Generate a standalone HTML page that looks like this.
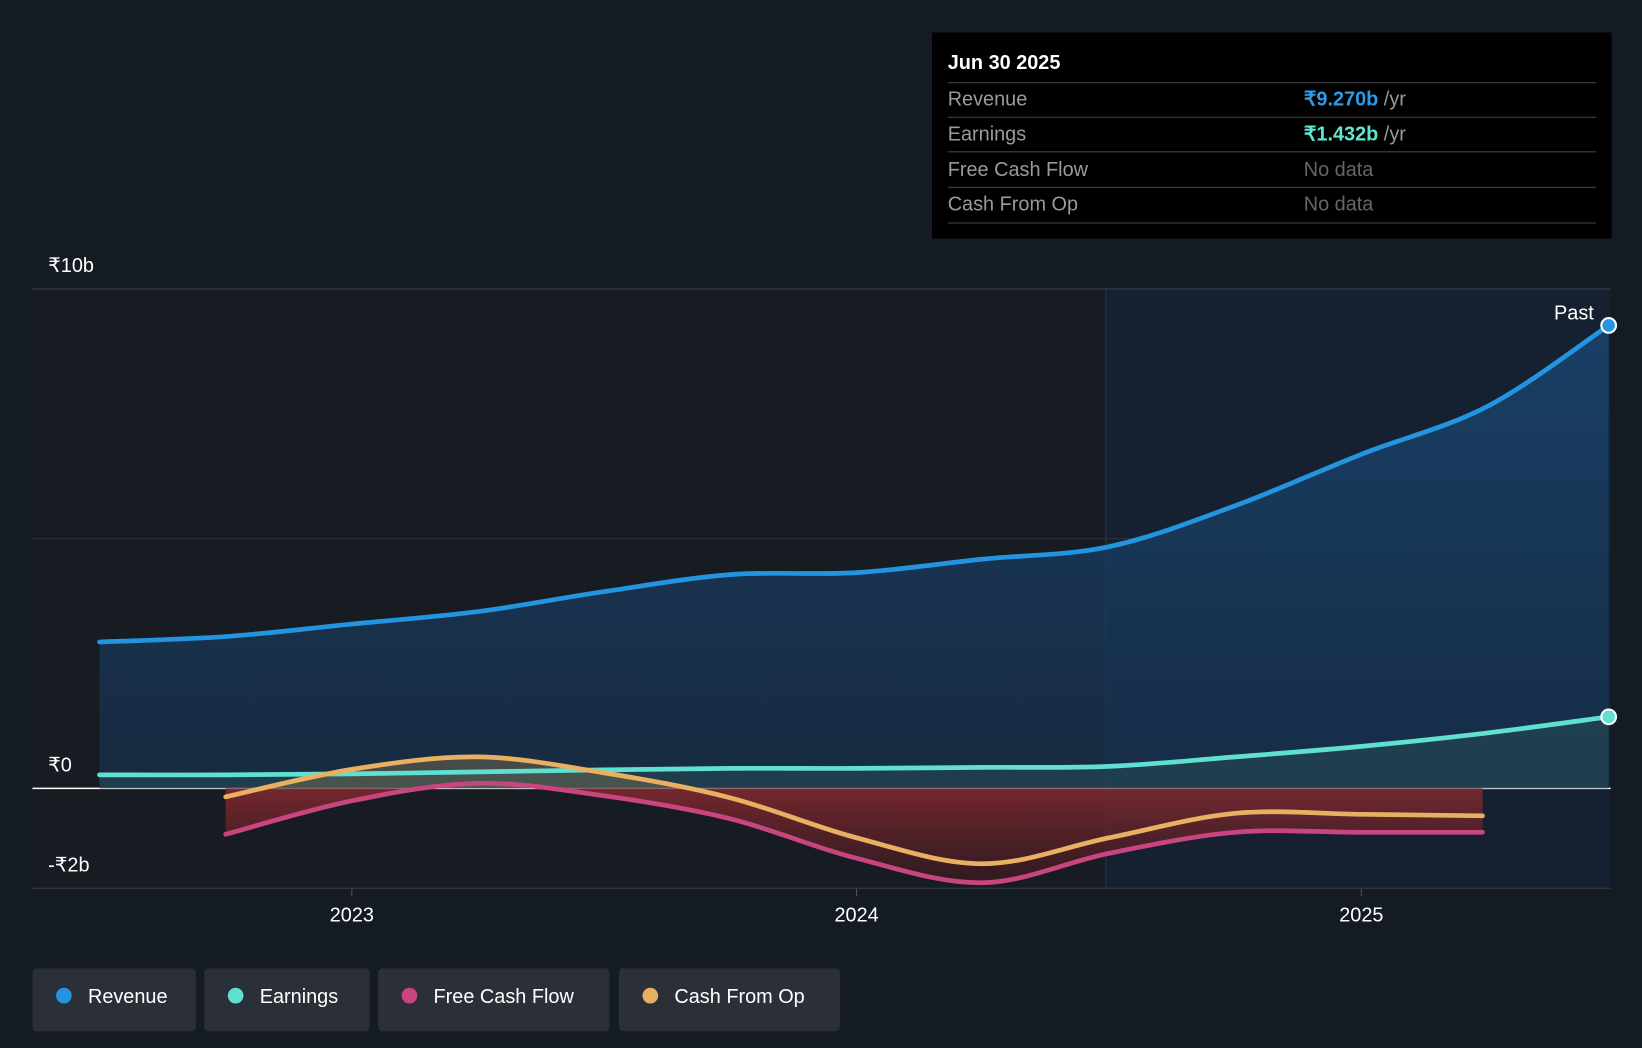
<!DOCTYPE html>
<html><head><meta charset="utf-8"><style>
html,body{margin:0;padding:0;background:#151b23;}
svg{display:block;font-family:"Liberation Sans",sans-serif;}
</style></head><body>
<svg width="1642" height="1048" viewBox="0 0 1568 1001" preserveAspectRatio="none">
<defs>
<linearGradient id="revG" x1="0" y1="0" x2="0" y2="1"><stop offset="0" stop-color="#1a4a78" stop-opacity="0.75"/><stop offset="1" stop-color="#173454" stop-opacity="0.6"/></linearGradient>
<linearGradient id="redG" x1="0" y1="0" x2="0" y2="1"><stop offset="0" stop-color="#8a2a30" stop-opacity="0.85"/><stop offset="1" stop-color="#3a1a20" stop-opacity="0.7"/></linearGradient>
<clipPath id="below"><rect x="0" y="753" width="1568" height="200"/></clipPath>
<clipPath id="above"><rect x="0" y="0" width="1568" height="753"/></clipPath>
</defs>
<rect x="0" y="0" width="1568" height="1001" fill="#151b23"/>
<rect x="31" y="276" width="1025" height="573" fill="#171b22"/>
<rect x="1056" y="276" width="482" height="573" fill="#152131"/>
<line x1="1056" y1="276" x2="1056" y2="849" stroke="#26384a" stroke-width="1"/>
<g id="grid"></g>
<g id="areas"></g>
<g id="lines"></g>
<g id="axis"></g>
<text x="1522" y="305" fill="#fff" font-size="19" text-anchor="end">Past</text>
<g>
<rect x="890" y="31" width="649" height="197" fill="#000"/>
<text x="905" y="66" fill="#fff" font-size="19" font-weight="bold">Jun 30 2025</text>
<line x1="905" y1="79" x2="1524" y2="79" stroke="#444"/>
<text x="905" y="101" fill="#9a9a9a" font-size="19">Revenue</text>
<text x="1245" y="101" font-size="19"><tspan fill="#2d9be6" font-weight="bold">₹9.270b</tspan><tspan fill="#9a9a9a"> /yr</tspan></text>
<line x1="905" y1="112" x2="1524" y2="112" stroke="#444"/>
<text x="905" y="134" fill="#9a9a9a" font-size="19">Earnings</text>
<text x="1245" y="134" font-size="19"><tspan fill="#5ee8d4" font-weight="bold">₹1.432b</tspan><tspan fill="#9a9a9a"> /yr</tspan></text>
<line x1="905" y1="145" x2="1524" y2="145" stroke="#444"/>
<text x="905" y="168" fill="#9a9a9a" font-size="19">Free Cash Flow</text>
<text x="1245" y="168" fill="#666" font-size="19">No data</text>
<line x1="905" y1="179" x2="1524" y2="179" stroke="#444"/>
<text x="905" y="201" fill="#9a9a9a" font-size="19">Cash From Op</text>
<text x="1245" y="201" fill="#666" font-size="19">No data</text>
<line x1="905" y1="213" x2="1524" y2="213" stroke="#444"/>
</g>
<g id="legend"></g>
</svg>
<script>
const NS="http://www.w3.org/2000/svg";
const times=[2022.5,2022.75,2023,2023.25,2023.5,2023.75,2024,2024.25,2024.5,2024.75,2025,2025.25,2025.49];
const revenue=[2.93,3.04,3.29,3.54,3.94,4.28,4.32,4.59,4.84,5.66,6.69,7.65,9.27];
const earnings=[0.27,0.27,0.29,0.33,0.37,0.40,0.40,0.42,0.44,0.63,0.84,1.11,1.432];
const fcfTimes=[2022.75,2023,2023.25,2023.5,2023.75,2024,2024.25,2024.5,2024.75,2025,2025.24];
const fcf=[-0.92,-0.25,0.10,-0.15,-0.61,-1.40,-1.89,-1.30,-0.88,-0.88,-0.88];
const cfo=[-0.17,0.38,0.63,0.31,-0.19,-0.99,-1.51,-0.99,-0.50,-0.52,-0.55];
const yTicks=[10,0,-2];const yTickLabels=["₹10b","₹0","-₹2b"];
const xTicks=[2023,2024,2025];
const X=t=>336+(t-2023)*482;
const Y=v=>753-v*47.7;
function mk(tag,attrs,parent){const e=document.createElementNS(NS,tag);for(const k in attrs)e.setAttribute(k,attrs[k]);parent.appendChild(e);return e;}
function pathD(ts,vs){const p=ts.map((t,i)=>[X(t),Y(vs[i])]);let d=`M${p[0][0]},${p[0][1]}`;
for(let i=0;i<p.length-1;i++){const p0=p[i-1]||p[i],p1=p[i],p2=p[i+1],p3=p[i+2]||p2;
d+=` C${p1[0]+(p2[0]-p0[0])/6},${p1[1]+(p2[1]-p0[1])/6} ${p2[0]-(p3[0]-p1[0])/6},${p2[1]-(p3[1]-p1[1])/6} ${p2[0]},${p2[1]}`;}return d;}
function areaD(ts,vs){return pathD(ts,vs)+` L${X(ts[ts.length-1])},${Y(0)} L${X(ts[0])},${Y(0)} Z`;}
const grid=document.getElementById('grid'),areas=document.getElementById('areas'),lines=document.getElementById('lines'),axis=document.getElementById('axis');
yTicks.forEach((v,i)=>{
const l=mk('line',{x1:31,x2:1538,y1:Y(v),y2:Y(v),stroke:v===0?'#ffffff':'#3a3f48','stroke-width':v===0?1.5:1},grid);

const t=mk('text',{x:46,y:Y(v)-16,fill:'#fff','font-size':19},axis);t.textContent=yTickLabels[i];
});
{const l=mk('line',{x1:31,x2:1538,y1:Y(5),y2:Y(5),stroke:'#2c323b','stroke-width':1},grid);}
xTicks.forEach(t=>{mk('line',{x1:X(t),x2:X(t),y1:849,y2:856,stroke:'#555'},axis);
const e=mk('text',{x:X(t),y:880,fill:'#fff','font-size':19,'text-anchor':'middle'},axis);e.textContent=String(t);
});
let a=mk('path',{d:areaD(times,revenue),fill:'url(#revG)'},areas);
a=mk('path',{d:areaD(times,earnings),fill:'#2d5a60','fill-opacity':0.4},areas);
a=mk('path',{d:areaD(fcfTimes,fcf),fill:'url(#redG)','clip-path':'url(#below)'},areas);
a=mk('path',{d:areaD(fcfTimes,cfo),fill:'#6a6650','fill-opacity':0.55,'clip-path':'url(#above)'},areas);
const series=[[times,revenue,'#2394e0','revenue-line'],[times,earnings,'#5fe0d0','earnings-line'],[fcfTimes,fcf,'#c8457f','fcf-line'],[fcfTimes,cfo,'#e8b060','cfo-line']];
series.forEach(s=>{const p=mk('path',{d:pathD(s[0],s[1]),fill:'none',stroke:s[2],'stroke-width':4.5,'stroke-linecap':'round'},lines);});
[[revenue,'#2394e0'],[earnings,'#5fe0d0']].forEach((s,i)=>{const c=mk('circle',{cx:X(times[times.length-1]),cy:Y(s[0][s[0].length-1]),r:7,fill:s[1],stroke:'#fff','stroke-width':2},lines);
});
const leg=document.getElementById('legend');
const legItems=[['Revenue','#2394e0',31,156],['Earnings','#5fe0d0',195,158],['Free Cash Flow','#c8457f',361,221],['Cash From Op','#e8b060',591,211]];
legItems.forEach(it=>{const g=mk('g',{},leg);
mk('rect',{x:it[2],y:925,width:it[3],height:60,rx:4,fill:'#2a2f38'},g);
mk('circle',{cx:it[2]+30,cy:951,r:7.5,fill:it[1]},g);
const t=mk('text',{x:it[2]+53,y:958,fill:'#fff','font-size':19},g);t.textContent=it[0];});
</script>
</body></html>
